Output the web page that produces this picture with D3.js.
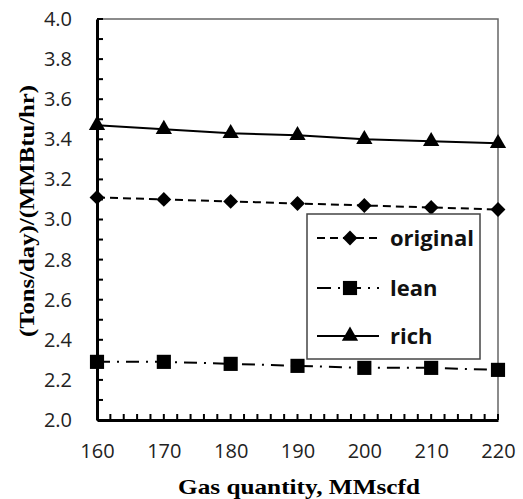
<!DOCTYPE html>
<html>
<head>
<meta charset="utf-8">
<script src="https://cdn.jsdelivr.net/npm/d3@7"></script>
<style>
  body { margin: 0; background: #fff; }
</style>
</head>
<body>
<script>
// Data
const gasQuantity = [160, 170, 180, 190, 200, 210, 220];
const original = [3.11, 3.10, 3.09, 3.08, 3.07, 3.06, 3.05];
const lean = [2.29, 2.29, 2.28, 2.27, 2.26, 2.26, 2.25];
const rich = [3.47, 3.45, 3.43, 3.42, 3.40, 3.39, 3.38];
const yTicks = [2.0, 2.2, 2.4, 2.6, 2.8, 3.0, 3.2, 3.4, 3.6, 3.8, 4.0];
const xTicks = [160, 170, 180, 190, 200, 210, 220];

const width = 523, height = 499;
const plot = { left: 97, right: 498, top: 19, bottom: 420 };

const svg = d3.select("body").append("svg")
    .attr("width", width)
    .attr("height", height);

const x = d3.scaleLinear().domain([160, 220]).range([plot.left, plot.right]);
const y = d3.scaleLinear().domain([2.0, 4.0]).range([plot.bottom, plot.top]);

// frame (top and right, thin)
svg.append("path")
    .attr("d", `M${plot.left},${plot.top}H${plot.right}V${plot.bottom}`)
    .attr("fill", "none")
    .attr("stroke", "#666")
    .attr("stroke-width", 1.5);

const tickFont = "'Open Sans', 'Noto Sans', sans-serif";

// minor ticks, pointing inside the plot
const yMinorVals = d3.range(0, 21).map(i => 2.0 + i * 0.1);
const xMinorVals = d3.range(0, 31).map(i => 160 + i * 2);

svg.append("g").selectAll("line")
    .data(yMinorVals)
    .join("line")
    .attr("x1", plot.left).attr("x2", plot.left + 6)
    .attr("y1", d => y(d)).attr("y2", d => y(d))
    .attr("stroke", "#000").attr("stroke-width", 2);

svg.append("g").selectAll("line")
    .data(xMinorVals)
    .join("line")
    .attr("x1", d => x(d)).attr("x2", d => x(d))
    .attr("y1", plot.bottom).attr("y2", plot.bottom - 6)
    .attr("stroke", "#000").attr("stroke-width", 2);

// main axes
const yAxis = d3.axisLeft(y).tickValues(yTicks).tickSize(0).tickSizeOuter(0).tickPadding(25)
    .tickFormat(d3.format(".1f"));
const xAxis = d3.axisBottom(x).tickValues(xTicks).tickSize(0).tickSizeOuter(0).tickPadding(24)
    .tickFormat(d3.format("d"));

svg.append("g").attr("transform", `translate(${plot.left},0)`).call(yAxis)
    .call(g => g.select(".domain").attr("stroke", "#000").attr("stroke-width", 3))
    .call(g => g.selectAll("text").attr("font-family", tickFont).attr("font-size", 20).attr("fill", "#222"));
svg.append("g").attr("transform", `translate(0,${plot.bottom})`).call(xAxis)
    .call(g => g.select(".domain").attr("stroke", "#000").attr("stroke-width", 3))
    .call(g => g.selectAll("text").attr("font-family", tickFont).attr("font-size", 20).attr("fill", "#222"));

// axis titles
svg.append("text")
    .attr("transform", `translate(34,${(85 + 337) / 2}) rotate(-90)`)
    .attr("text-anchor", "middle")
    .attr("font-family", "'Liberation Serif', 'DejaVu Serif', serif")
    .attr("font-weight", "bold")
    .attr("font-size", 22)
    .attr("textLength", 252)
    .attr("lengthAdjust", "spacingAndGlyphs")
    .text("(Tons/day)/(MMBtu/hr)");

svg.append("text")
    .attr("x", 299)
    .attr("y", 494)
    .attr("text-anchor", "middle")
    .attr("font-family", "'Liberation Serif', 'DejaVu Serif', serif")
    .attr("font-weight", "bold")
    .attr("font-size", 22)
    .attr("textLength", 242)
    .attr("lengthAdjust", "spacingAndGlyphs")
    .text("Gas quantity, MMscfd");

// series definitions
const series = [
    { name: "original", values: original, dash: "8,5", marker: "diamond", size: 110 },
    { name: "lean", values: lean, dash: "13,7,2,7", marker: "square", size: 200 },
    { name: "rich", values: rich, dash: null, marker: "triangle", size: 115 }
];

const line = d3.line().x((d, i) => x(gasQuantity[i])).y(d => y(d));

function markerPath(s) {
    const type = s.marker === "triangle" ? d3.symbolTriangle : d3.symbolSquare;
    return d3.symbol().type(type).size(s.size)();
}
const markerRot = s => s.marker === "diamond" ? " rotate(45)" : "";

series.forEach(s => {
    svg.append("path")
        .datum(s.values)
        .attr("d", line)
        .attr("fill", "none")
        .attr("stroke", "#000")
        .attr("stroke-width", 2)
        .attr("stroke-dasharray", s.dash);

    svg.append("g").selectAll("path")
        .data(s.values)
        .join("path")
        .attr("d", markerPath(s))
        .attr("transform", (d, i) => `translate(${x(gasQuantity[i])},${y(d)})` + markerRot(s))
        .attr("fill", "#000");
});

// legend
const legend = svg.append("g");
legend.append("rect")
    .attr("x", 307).attr("y", 214)
    .attr("width", 173).attr("height", 145)
    .attr("fill", "#fff")
    .attr("stroke", "#444")
    .attr("stroke-width", 1.5);

series.forEach((s, i) => {
    const ly = [238, 288, 336][i];
    legend.append("line")
        .attr("x1", 317).attr("x2", 379)
        .attr("y1", ly).attr("y2", ly)
        .attr("stroke", "#000")
        .attr("stroke-width", 2)
        .attr("stroke-dasharray", s.name === "lean" ? "14,7,2,7" : s.dash);
    legend.append("path")
        .attr("d", markerPath(s))
        .attr("transform", `translate(350,${ly})` + markerRot(s))
        .attr("fill", "#000");
    legend.append("text")
        .attr("x", 390)
        .attr("y", ly)
        .attr("dy", "0.35em")
        .attr("font-family", tickFont)
        .attr("font-weight", "bold")
        .attr("font-size", 22)
        .attr("fill", "#111")
        .text(s.name);
});
</script>
</body>
</html>
